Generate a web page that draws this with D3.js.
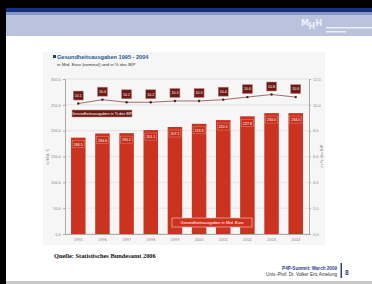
<!DOCTYPE html>
<html>
<head>
<meta charset="utf-8">
<script src="https://cdn.jsdelivr.net/npm/d3@7"></script>
<style>
    html, body { margin: 0; padding: 0; background: #fff; }
    svg { display: block; }
</style>
</head>
<body>
<div id="chart"></div>
<script>
// data
const years = ["1995", "1996", "1997", "1998", "1999", "2000", "2001", "2002", "2003", "2004"];
const spending = [186.5, 194.6, 195.2, 201.1, 207.1, 213.3, 220.5, 227.8, 234.0, 234.0];
const gdpShare = [10.1, 10.4, 10.2, 10.2, 10.3, 10.3, 10.4, 10.6, 10.8, 10.6];
const leftTicks = [0, 50, 100, 150, 200, 250, 300];
const rightTicks = [0, 2, 4, 6, 8, 10, 12];

const W = 372, H = 284;
const plot = {left: 65, right: 309, top: 79, bottom: 234};

const svg = d3.select("#chart").append("svg")
    .attr("width", W)
    .attr("height", H);

// slide frame
svg.append("rect").attr("x", 0).attr("y", 0).attr("width", W).attr("height", 8).attr("fill", "#000");
svg.append("rect").attr("x", 0).attr("y", 8).attr("width", W).attr("height", 4).attr("fill", "#14307e");
svg.append("rect").attr("x", 0).attr("y", 12).attr("width", W).attr("height", 3).attr("fill", "#8797c4");
svg.append("rect").attr("x", 0).attr("y", 15).attr("width", W).attr("height", 21).attr("fill", "#b9c3dd");
svg.append("rect").attr("x", 0).attr("y", 0).attr("width", 6).attr("height", H).attr("fill", "#000");
svg.append("rect").attr("x", 6).attr("y", 281).attr("width", W - 6).attr("height", 3).attr("fill", "#c8c8c8");

// MHH logo
const logo = svg.append("g")
    .attr("font-family", "DejaVu Sans, sans-serif")
    .attr("font-weight", "bold")
    .attr("font-size", 8)
    .attr("fill", "#eef0f8");
logo.append("text").attr("x", 301).attr("y", 26).text("M");
logo.append("text").attr("x", 308.5).attr("y", 28.5).text("H");
logo.append("text").attr("x", 315.5).attr("y", 26).text("H");
svg.append("rect").attr("x", 326).attr("y", 27).attr("width", 46).attr("height", 1.5).attr("fill", "#eef0f8");
svg.append("rect").attr("x", 326).attr("y", 31).attr("width", 20).attr("height", 1.5).attr("fill", "#eef0f8");

// chart panel
svg.append("rect")
    .attr("x", 43).attr("y", 52)
    .attr("width", 282).attr("height", 193)
    .attr("fill", "#f6f6f6");

svg.append("rect").attr("x", 53).attr("y", 55).attr("width", 3).attr("height", 3).attr("fill", "#1f3d6e");
svg.append("text")
    .attr("x", 57).attr("y", 58.5)
    .attr("font-family", "Liberation Sans, Arial, sans-serif")
    .attr("font-weight", "bold")
    .attr("font-size", 5.6)
    .attr("fill", "#2a5a8a")
    .text("Gesundheitsausgaben 1995 - 2004");
svg.append("text")
    .attr("x", 57).attr("y", 65.5)
    .attr("font-family", "Liberation Sans, Arial, sans-serif")
    .attr("font-size", 4.4)
    .attr("fill", "#333")
    .text("in Mrd. Euro (nominal) und in % des BIP");

const x = d3.scaleBand()
    .domain(years)
    .range([plot.left, plot.right])
    .paddingInner(0.4)
    .paddingOuter(0.25);

const yLeft = d3.scaleLinear().domain([0, 300]).range([plot.bottom, plot.top]);
const yRight = d3.scaleLinear().domain([0, 12]).range([plot.bottom, plot.top]);

// gridlines
svg.append("g")
    .selectAll("line")
    .data(leftTicks)
    .join("line")
    .attr("x1", plot.left).attr("x2", plot.right)
    .attr("y1", d => yLeft(d)).attr("y2", d => yLeft(d))
    .attr("stroke", "#d8d8d8")
    .attr("stroke-width", 0.6);

// axes
const axisStyle = g => {
    g.select(".domain").attr("stroke", "#aaa");
    g.selectAll(".tick line").attr("stroke", "#aaa");
    g.selectAll("text").attr("fill", "#888").attr("font-size", 4).attr("font-family", "Liberation Sans, Arial, sans-serif");
};

svg.append("g")
    .attr("transform", `translate(${plot.left},0)`)
    .call(d3.axisLeft(yLeft).tickValues(leftTicks).tickFormat(d3.format(".1f")).tickSize(2).tickPadding(2))
    .call(axisStyle);

svg.append("g")
    .attr("transform", `translate(${plot.right},0)`)
    .call(d3.axisRight(yRight).tickValues(rightTicks).tickFormat(d3.format(".1f")).tickSize(2).tickPadding(2))
    .call(axisStyle);

svg.append("g")
    .attr("transform", `translate(0,${plot.bottom})`)
    .call(d3.axisBottom(x).tickSize(0).tickPadding(4))
    .call(axisStyle);

svg.append("text")
    .attr("transform", "translate(49,157) rotate(-90)")
    .attr("text-anchor", "middle")
    .attr("font-family", "Liberation Sans, Arial, sans-serif")
    .attr("font-size", 4)
    .attr("fill", "#888")
    .text("in Mrd. €");
svg.append("text")
    .attr("transform", "translate(323,156) rotate(-90)")
    .attr("text-anchor", "middle")
    .attr("font-family", "Liberation Sans, Arial, sans-serif")
    .attr("font-size", 4)
    .attr("fill", "#888")
    .text("in % des BIP");

// bars
svg.append("g")
    .selectAll("rect")
    .data(spending)
    .join("rect")
    .attr("x", (d, i) => x(years[i]))
    .attr("y", d => yLeft(d))
    .attr("width", x.bandwidth())
    .attr("height", d => plot.bottom - yLeft(d))
    .attr("fill", "#cb3320");

const barLabels = svg.append("g")
    .selectAll("g")
    .data(spending)
    .join("g")
    .attr("transform", (d, i) => `translate(${x(years[i]) + x.bandwidth() / 2},${yLeft(d) + 7})`);
barLabels.append("rect")
    .attr("x", -6).attr("y", -4)
    .attr("width", 12).attr("height", 7)
    .attr("fill", "#c42e1c")
    .attr("stroke", "#e88a78")
    .attr("stroke-width", 0.5);
barLabels.append("text")
    .attr("text-anchor", "middle")
    .attr("y", 1.3)
    .attr("font-family", "Liberation Sans, Arial, sans-serif")
    .attr("font-size", 3.6)
    .attr("fill", "#fff")
    .text(d => d.toFixed(1));

// GDP share line
const line = d3.line()
    .x((d, i) => x(years[i]) + x.bandwidth() / 2)
    .y(d => yRight(d));

svg.append("path")
    .datum(gdpShare)
    .attr("d", line)
    .attr("fill", "none")
    .attr("stroke", "#8a4848")
    .attr("stroke-width", 0.8);

svg.append("g")
    .selectAll("circle")
    .data(gdpShare)
    .join("circle")
    .attr("cx", (d, i) => x(years[i]) + x.bandwidth() / 2)
    .attr("cy", d => yRight(d))
    .attr("r", 1.2)
    .attr("fill", "#4a2020");

const shareLabels = svg.append("g")
    .selectAll("g")
    .data(gdpShare)
    .join("g")
    .attr("transform", (d, i) => `translate(${x(years[i]) + x.bandwidth() / 2},${yRight(d) - 8})`);
shareLabels.append("rect")
    .attr("x", -5).attr("y", -4.5)
    .attr("width", 10).attr("height", 9)
    .attr("fill", "#6e1a14")
    .attr("stroke", "#c88a80")
    .attr("stroke-width", 0.5);
shareLabels.append("text")
    .attr("text-anchor", "middle")
    .attr("y", 1.3)
    .attr("font-family", "Liberation Sans, Arial, sans-serif")
    .attr("font-size", 3.6)
    .attr("fill", "#fff")
    .text(d => d.toFixed(1));

// legend labels
svg.append("rect")
    .attr("x", 72).attr("y", 110)
    .attr("width", 60).attr("height", 7)
    .attr("fill", "#6e1a14")
    .attr("stroke", "#c88a80")
    .attr("stroke-width", 0.5);
svg.append("text")
    .attr("x", 102).attr("y", 114.7)
    .attr("text-anchor", "middle")
    .attr("font-family", "Liberation Sans, Arial, sans-serif")
    .attr("font-size", 3.8)
    .attr("fill", "#fff")
    .text("Gesundheitsausgaben in % des BIP");

svg.append("rect")
    .attr("x", 172).attr("y", 218)
    .attr("width", 80).attr("height", 9)
    .attr("fill", "#cb3320")
    .attr("stroke", "#f2b8a8")
    .attr("stroke-width", 0.7);
svg.append("text")
    .attr("x", 212).attr("y", 223.8)
    .attr("text-anchor", "middle")
    .attr("font-family", "Liberation Sans, Arial, sans-serif")
    .attr("font-size", 4)
    .attr("fill", "#fff")
    .text("Gesundheitsausgaben in Mrd. Euro");

// source and footer
svg.append("text")
    .attr("x", 54).attr("y", 257.5)
    .attr("font-family", "Liberation Serif, serif")
    .attr("font-weight", "bold")
    .attr("font-size", 6.4)
    .attr("fill", "#111")
    .text("Quelle: Statistisches Bundesamt 2006");

svg.append("text")
    .attr("x", 337).attr("y", 270)
    .attr("text-anchor", "end")
    .attr("font-family", "Liberation Sans, Arial, sans-serif")
    .attr("font-weight", "bold")
    .attr("font-size", 4.6)
    .attr("fill", "#2c3e90")
    .text("P4P-Summit: March 2009");
svg.append("text")
    .attr("x", 337).attr("y", 276)
    .attr("text-anchor", "end")
    .attr("font-family", "Liberation Sans, Arial, sans-serif")
    .attr("font-size", 4.6)
    .attr("fill", "#333")
    .text("Univ.-Prof. Dr. Volker Eric Amelung");
svg.append("rect").attr("x", 340.5).attr("y", 263).attr("width", 1.5).attr("height", 15).attr("fill", "#2c3e90");
svg.append("text")
    .attr("x", 345).attr("y", 274.5)
    .attr("font-family", "Liberation Sans, Arial, sans-serif")
    .attr("font-weight", "bold")
    .attr("font-size", 6.5)
    .attr("fill", "#2c3e90")
    .text("8");
</script>
</body>
</html>
